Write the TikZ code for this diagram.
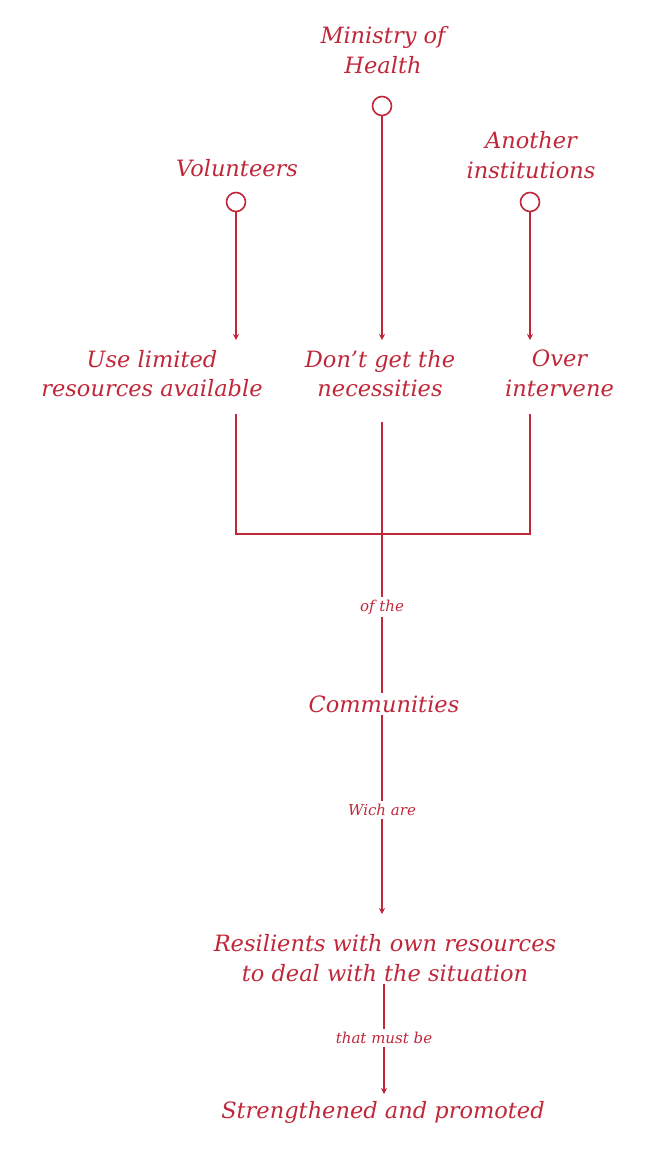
\documentclass[tikz,border=0pt]{standalone}
\usepackage{fontspec}
\setmainfont{DejaVu Serif}
\usetikzlibrary{arrows.meta}
\definecolor{rd}{HTML}{C0283A}
\begin{document}
\begin{tikzpicture}[x=1pt,y=-1pt,
  lbl/.style={text=rd,font=\fontsize{22.5}{29.5}\selectfont\itshape,align=center,inner sep=2pt},
  sm/.style={text=rd,font=\fontsize{15}{16}\selectfont\itshape,inner sep=3pt},
  circ/.style={draw=rd,line width=1.6pt,circle,minimum size=19pt,inner sep=0pt},
  ln/.style={draw=rd,line width=1.6pt},
  ar/.style={ln,-{Stealth[length=6pt,width=6pt]}}]
\useasboundingbox (0,0) rectangle (656,1167);
\node[lbl] (min) at (383,50) {Ministry of\\Health};
\node[lbl] (vol) at (237,168) {Volunteers};
\node[lbl] (ano) at (531,155) {Another\\institutions};
\node[circ] (c1) at (236,202) {};
\node[circ] (c2) at (382,106) {};
\node[circ] (c3) at (530,202) {};
\node[lbl,anchor=north] (use) at (152,348) {Use limited\\resources available};
\node[lbl,anchor=north] (dont) at (380,348) {Don't get the\\necessities};
\node[lbl,anchor=north west] (over) at (503,348) {Over\\intervene};
\coordinate (t1) at (236,340);
\coordinate (t2) at (382,340);
\coordinate (t3) at (530,340);
\draw[ar] (c1) -- (t1);
\draw[ar] (c2) -- (t2);
\draw[ar] (c3) -- (t3);
\coordinate (u1) at (236,414);
\coordinate (u2) at (382,422);
\coordinate (u3) at (530,414);
\coordinate (j1) at (236,534);
\coordinate (j3) at (530,534);
\draw[ln] (u1) -- (j1) -- (j3) -- (u3);
\node[sm] (of) at (382,607) {of the};
\draw[ln] (u2) -- (of.north);
\node[lbl] (com) at (384,704) {Communities};
\draw[ln] (of.south) -- (of.south |- com.north);
\node[sm] (wich) at (382,810) {Wich are};
\draw[ln] (com.south -| wich.north) -- (wich.north);
\node[lbl] (res) at (385,958) {Resilients with own resources\\to deal with the situation};
\coordinate (r0) at (382,914);
\draw[ar] (wich.south) -- (r0);
\node[sm] (must) at (384,1038) {that must be};
\draw[ln] (res.south -| must.north) -- (must.north);
\node[lbl] (str) at (383,1112) {Strengthened and promoted};
\coordinate (s0) at (384,1094);
\draw[ar] (must.south) -- (s0);
\end{tikzpicture}
\end{document}
